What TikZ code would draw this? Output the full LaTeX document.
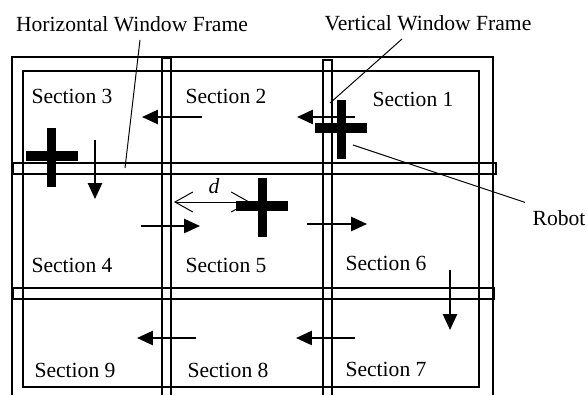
\documentclass[tikz,border=0pt]{standalone}
\usepackage{fontspec}
\setmainfont{Liberation Serif}
\usetikzlibrary{arrows.meta}

\begin{document}
\begin{tikzpicture}[x=0.463pt, y=-0.463pt,
		frame/.style={line width=0.9pt},
		move/.style={line width=0.9pt, -{Triangle[length=7.4pt, width=6.6pt]}},
		leader/.style={line width=0.45pt},
		barb/.tip={Straight Barb[length=8.3pt, width=9.3pt]},
		sect/.style={anchor=base, inner sep=0pt}]
		\useasboundingbox (0,0) rectangle (587,395);
		
		% window frames
		\draw[frame] (12,395) -- (12,57) -- (493,57) -- (493,395);
		\draw[frame] (23,71) rectangle (479,387);
		\draw[frame] (162,395) -- (162,58) -- (171,58) -- (171,395);
		\draw[frame] (323,395) -- (323,60) -- (332,60) -- (332,395);
		\draw[frame] (13,163) rectangle (496,174);
		\draw[frame] (13,288) rectangle (494,299);
		
		\coordinate (A) at (355, 117);
		\coordinate (B) at (297, 117);
		\coordinate (C) at (202, 117);
		\coordinate (D) at (142, 117);
		\coordinate (E) at (95, 140);
		\coordinate (F) at (95, 199);
		\coordinate (G) at (141, 226);
		\coordinate (H) at (200, 226);
		\coordinate (I) at (307, 224);
		\coordinate (J) at (367, 224);
		\coordinate (K) at (450, 270);
		\coordinate (L) at (450, 330);
		\coordinate (M) at (355, 338);
		\coordinate (N) at (296, 338);
		\coordinate (O) at (196, 338);
		\coordinate (P) at (137, 338);
		\coordinate (dL) at (174, 202);
		\coordinate (dR) at (250, 202);
		\coordinate (hbar) at (125, 168);
		\coordinate (vbar) at (330, 103);
		\coordinate (robotA) at (51.5, 157.5);
		\coordinate (robotB) at (341, 129.5);
		\coordinate (robotC) at (262, 207);
		
		\foreach \n/\x/\y in {1/413/106, 2/226/103, 3/72/103, 4/72/272, 5/226/272, 6/386/270, 7/386/376, 8/228/377, 9/75/377} {
			\node[sect] (sec\n) at (\x,\y) {Section \n};
		}
		
		\foreach \s/\t in {A/B, C/D, E/F, G/H, I/J, K/L, M/N, O/P} {
			\draw[move] (\s) -- (\t);
		}
		
		\draw[leader, barb-barb] (dL) -- (dR);
		\node[sect] (dist) at (214, 193) {\textit{d}};
		
		\foreach \r in {robotA, robotB, robotC} {
			\fill ([shift={(-26,-6.5)}]\r) rectangle ([shift={(26,3.5)}]\r);
			\fill ([shift={(-4.5,-29.5)}]\r) rectangle ([shift={(4.5,29.5)}]\r);
		}
		
		\node[anchor=base] (hwf) at (132, 32) {Horizontal Window Frame};
		\node[anchor=base] (vwf) at (428, 31) {Vertical Window Frame};
		\node[anchor=base] (robot) at (559, 225) {Robot};
		
		\draw[leader] ([xshift=3.7pt]hwf.south) -- (hbar);
		\draw[leader] ([xshift=-12pt]vwf.south) -- (vbar);
		\draw[leader] ([shift={(12,15.5)}]robotB) -- (robot.north west);
		
	\end{tikzpicture}
\end{document}
